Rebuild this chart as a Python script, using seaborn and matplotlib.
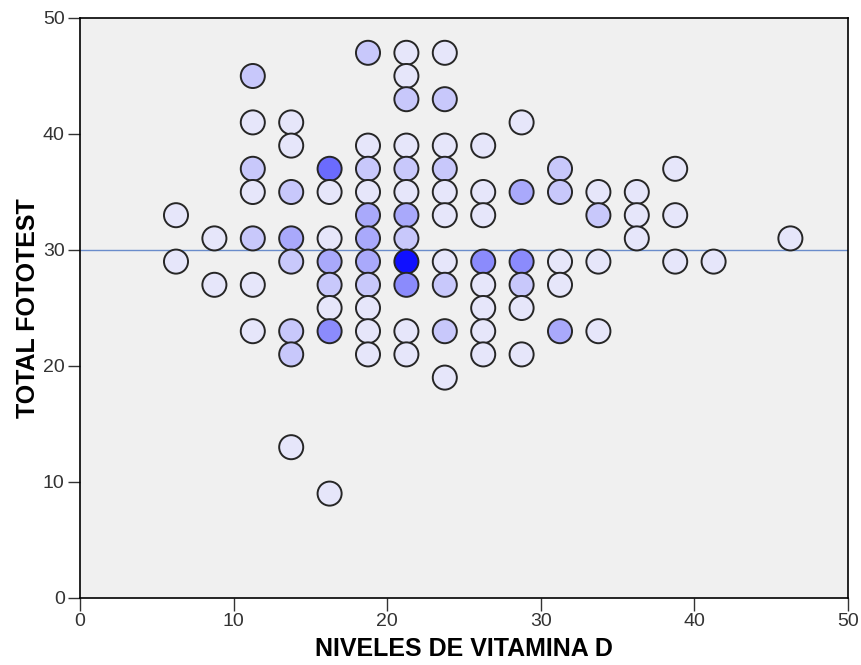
import matplotlib
matplotlib.use("Agg")
import matplotlib.pyplot as plt
import seaborn as sns
import pandas as pd
from matplotlib.colors import LinearSegmentedColormap

# Binned points: vitamin D bin centre, fototest score, number of cases in the bin
vit_d = [6.25, 6.25,
         8.75, 8.75,
         11.25, 11.25, 11.25, 11.25, 11.25, 11.25, 11.25,
         13.75, 13.75, 13.75, 13.75, 13.75, 13.75, 13.75, 13.75,
         16.25, 16.25, 16.25, 16.25, 16.25, 16.25, 16.25, 16.25,
         18.75, 18.75, 18.75, 18.75, 18.75, 18.75, 18.75, 18.75, 18.75, 18.75, 18.75,
         21.25, 21.25, 21.25, 21.25, 21.25, 21.25, 21.25, 21.25, 21.25, 21.25, 21.25, 21.25,
         23.75, 23.75, 23.75, 23.75, 23.75, 23.75, 23.75, 23.75, 23.75, 23.75,
         26.25, 26.25, 26.25, 26.25, 26.25, 26.25, 26.25, 26.25,
         28.75, 28.75, 28.75, 28.75, 28.75, 28.75,
         31.25, 31.25, 31.25, 31.25, 31.25,
         33.75, 33.75, 33.75, 33.75,
         36.25, 36.25, 36.25,
         38.75, 38.75, 38.75,
         41.25,
         46.25]
fototest = [33, 29,
            31, 27,
            45, 41, 37, 35, 31, 27, 23,
            41, 39, 35, 31, 29, 23, 21, 13,
            37, 35, 31, 29, 27, 25, 23, 9,
            47, 39, 37, 35, 33, 31, 29, 27, 25, 23, 21,
            47, 45, 43, 39, 37, 35, 33, 31, 29, 27, 23, 21,
            47, 43, 39, 37, 35, 33, 29, 27, 23, 19,
            39, 35, 33, 29, 27, 25, 23, 21,
            41, 35, 29, 27, 25, 21,
            37, 35, 29, 27, 23,
            35, 33, 29, 23,
            35, 33, 31,
            37, 33, 29,
            29,
            31]
count = [1, 1,
         1, 1,
         2, 1, 2, 1, 2, 1, 1,
         1, 1, 2, 3, 2, 2, 2, 1,
         5, 1, 1, 3, 2, 1, 4, 1,
         2, 1, 2, 1, 3, 3, 3, 2, 1, 1, 1,
         1, 1, 2, 1, 2, 1, 3, 2, 8, 4, 1, 1,
         1, 2, 1, 2, 1, 1, 1, 2, 2, 1,
         1, 1, 1, 4, 1, 1, 1, 1,
         1, 3, 4, 2, 1, 1,
         2, 2, 1, 1, 3,
         1, 2, 1, 1,
         1, 1, 1,
         1, 1, 1,
         1,
         1]
ref_line = 30
ticks = [0, 10, 20, 30, 40, 50]

df = pd.DataFrame({"vit_d": vit_d, "fototest": fototest, "count": count})

sns.set_style("white")
plt.rcParams["font.family"] = ["Liberation Sans", "DejaVu Sans"]

fig = plt.figure(figsize=(8.61, 6.65), dpi=100)
ax = fig.add_axes([80 / 861, 1 - 598 / 665, (848 - 80) / 861, (598 - 18) / 665])
ax.set_facecolor("#F0F0F0")

cmap = LinearSegmentedColormap.from_list("dens", ["#E6E6FA", "#1010FF"])
sns.scatterplot(data=df, x="vit_d", y="fototest", hue="count", palette=cmap,
                hue_norm=(1, 8), s=300, edgecolor="#262626", linewidth=1.4,
                legend=False, ax=ax, zorder=3)

ax.axhline(ref_line, color="#6A8CCB", linewidth=1.0, zorder=2)

ax.set_xlim(0, 50)
ax.set_ylim(0, 50)
ax.set_xticks(ticks)
ax.set_yticks(ticks)
ax.tick_params(axis="both", direction="out", length=9, width=1, color="#333333",
               labelsize=14, labelcolor="#333333", pad=2,
               bottom=True, left=True)
for sp in ax.spines.values():
    sp.set_color("black")
    sp.set_linewidth(1.2)

ax.set_xlabel("NIVELES DE VITAMINA D", fontsize=18, fontweight="bold",
              labelpad=5, color="black")
ax.set_ylabel("TOTAL FOTOTEST", fontsize=18, fontweight="bold",
              labelpad=2, color="black")

fig.savefig("out.png", dpi=100, facecolor="white")
